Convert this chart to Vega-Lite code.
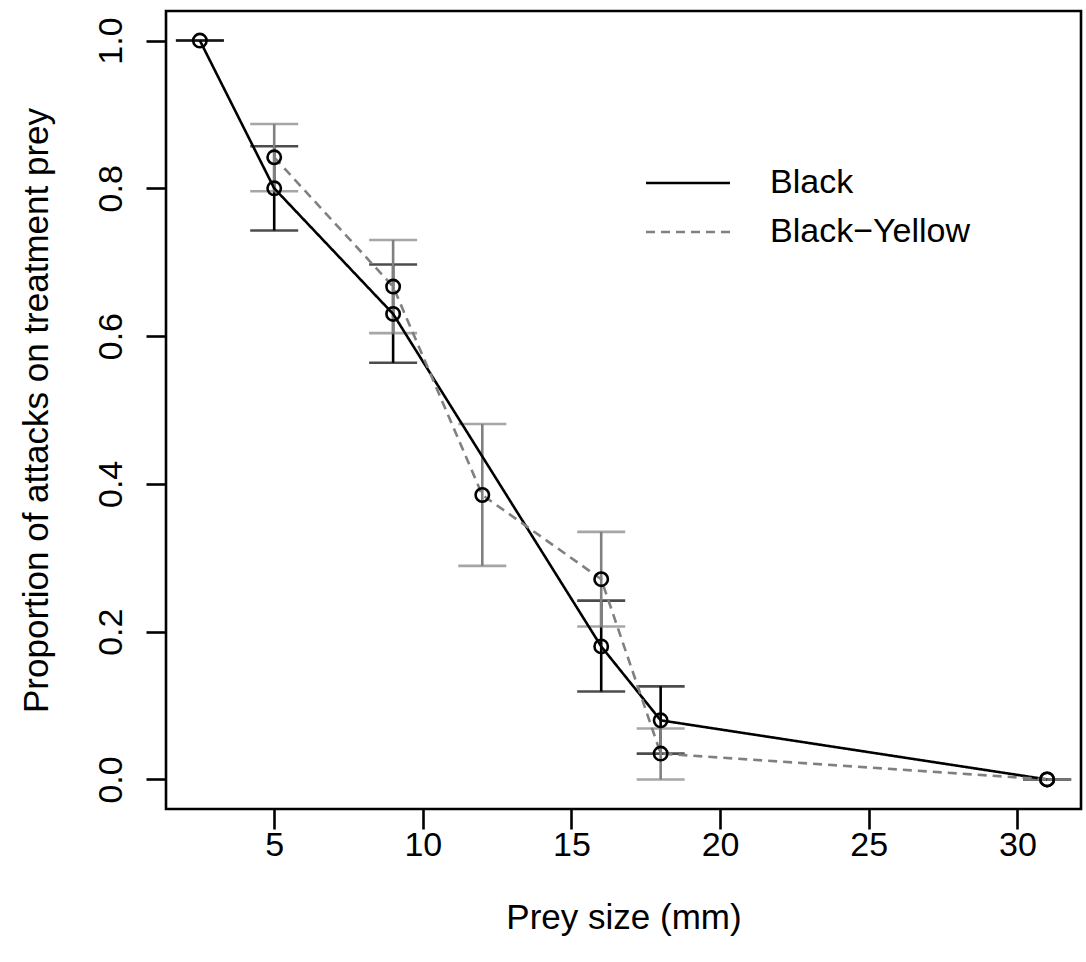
{
  "$schema": "https://vega.github.io/schema/vega-lite/v6.json",
  "width": 915,
  "height": 798,
  "autosize": {"type": "none"},
  "padding": {"left": 166, "top": 11, "right": 5, "bottom": 153},
  "background": "white",
  "config": {
    "font": "Liberation Sans",
    "view": {"stroke": "black", "strokeWidth": 2.6, "fill": "white"},
    "axis": {
      "grid": false,
      "domain": false,
      "tickColor": "black",
      "tickWidth": 2.6,
      "tickSize": 20,
      "labelColor": "black",
      "labelFontSize": 34,
      "labelFont": "Liberation Sans",
      "titleFontSize": 35,
      "titleFont": "Liberation Sans",
      "titleFontWeight": "normal",
      "titleColor": "black"
    },
    "legend": {
      "orient": "none",
      "legendX": 505,
      "legendY": 155,
      "padding": 0,
      "symbolType": "M-3,0H3",
      "symbolSize": 784,
      "symbolStrokeWidth": 2.6,
      "labelFontSize": 34,
      "labelFont": "Liberation Sans",
      "labelColor": "black",
      "labelOffset": 65,
      "labelLimit": 500,
      "rowPadding": 15
    }
  },
  "data": {
    "values": [
      {"series": "Black", "size": 2.5, "p": 1.0, "lo": 1.0, "hi": 1.0},
      {"series": "Black", "size": 5, "p": 0.8, "lo": 0.743, "hi": 0.857},
      {"series": "Black", "size": 9, "p": 0.63, "lo": 0.564, "hi": 0.697},
      {"series": "Black", "size": 16, "p": 0.18, "lo": 0.119, "hi": 0.242},
      {"series": "Black", "size": 18, "p": 0.08, "lo": 0.035, "hi": 0.126},
      {"series": "Black", "size": 31, "p": 0.0, "lo": 0.0, "hi": 0.0},
      {"series": "Black−Yellow", "size": 5, "p": 0.842, "lo": 0.796, "hi": 0.887},
      {"series": "Black−Yellow", "size": 9, "p": 0.667, "lo": 0.604, "hi": 0.73},
      {"series": "Black−Yellow", "size": 12, "p": 0.385, "lo": 0.289, "hi": 0.481},
      {"series": "Black−Yellow", "size": 16, "p": 0.271, "lo": 0.207, "hi": 0.335},
      {"series": "Black−Yellow", "size": 18, "p": 0.035, "lo": 0.0, "hi": 0.069},
      {"series": "Black−Yellow", "size": 31, "p": 0.0, "lo": 0.0, "hi": 0.0}
    ]
  },
  "encoding": {
    "x": {
      "field": "size",
      "type": "quantitative",
      "scale": {"domain": [1.36, 32.14], "nice": false, "zero": false},
      "axis": {
        "values": [5, 10, 15, 20, 25, 30],
        "labelBaseline": "alphabetic",
        "labelPadding": 26,
        "titlePadding": 38
      },
      "title": "Prey size (mm)"
    }
  },
  "layer": [
    {
      "transform": [{"filter": "datum.series === 'Black'"}],
      "mark": {"type": "rule", "color": "black", "strokeWidth": 2.6},
      "encoding": {
        "y": {
          "field": "lo",
          "type": "quantitative",
          "scale": {"domain": [-0.04, 1.04], "nice": false, "zero": false},
          "axis": {
            "values": [0, 0.2, 0.4, 0.6, 0.8, 1.0],
            "format": ".1f",
            "labelAngle": -90,
            "labelAlign": "center",
            "labelBaseline": "alphabetic",
            "labelPadding": 25,
            "titlePadding": 40
          },
          "title": "Proportion of attacks on treatment prey"
        },
        "y2": {"field": "hi"}
      }
    },
    {
      "transform": [{"filter": "datum.series === 'Black'"}],
      "mark": {"type": "tick", "orient": "horizontal", "size": 48, "thickness": 2.6, "color": "black"},
      "encoding": {
        "y": {"field": "lo", "type": "quantitative", "title": "Proportion of attacks on treatment prey"}
      }
    },
    {
      "transform": [{"filter": "datum.series === 'Black'"}],
      "mark": {"type": "tick", "orient": "horizontal", "size": 48, "thickness": 2.6, "color": "black"},
      "encoding": {
        "y": {"field": "hi", "type": "quantitative", "title": "Proportion of attacks on treatment prey"}
      }
    },
    {
      "transform": [{"filter": "datum.series !== 'Black'"}],
      "mark": {"type": "rule", "color": "#808080", "strokeWidth": 2.6},
      "encoding": {
        "y": {"field": "lo", "type": "quantitative", "title": "Proportion of attacks on treatment prey"},
        "y2": {"field": "hi"}
      }
    },
    {
      "transform": [{"filter": "datum.series !== 'Black'"}],
      "mark": {"type": "tick", "orient": "horizontal", "size": 48, "thickness": 2.6, "color": "#808080"},
      "encoding": {
        "y": {"field": "lo", "type": "quantitative", "title": "Proportion of attacks on treatment prey"}
      }
    },
    {
      "transform": [{"filter": "datum.series !== 'Black'"}],
      "mark": {"type": "tick", "orient": "horizontal", "size": 48, "thickness": 2.6, "color": "#808080"},
      "encoding": {
        "y": {"field": "hi", "type": "quantitative", "title": "Proportion of attacks on treatment prey"}
      }
    },
    {
      "mark": {"type": "line", "strokeWidth": 2.6},
      "encoding": {
        "y": {"field": "p", "type": "quantitative", "title": "Proportion of attacks on treatment prey"},
        "color": {
          "field": "series",
          "type": "nominal",
          "scale": {"domain": ["Black", "Black−Yellow"], "range": ["#000000", "#808080"]},
          "title": null
        },
        "strokeDash": {
          "field": "series",
          "type": "nominal",
          "scale": {"domain": ["Black", "Black−Yellow"], "range": [[1, 0], [9, 6]]},
          "title": null
        }
      }
    },
    {
      "mark": {"type": "point", "shape": "circle", "filled": false, "size": 180, "strokeWidth": 2.6, "color": "black", "opacity": 1},
      "encoding": {
        "y": {"field": "p", "type": "quantitative", "title": "Proportion of attacks on treatment prey"}
      }
    }
  ]
}
